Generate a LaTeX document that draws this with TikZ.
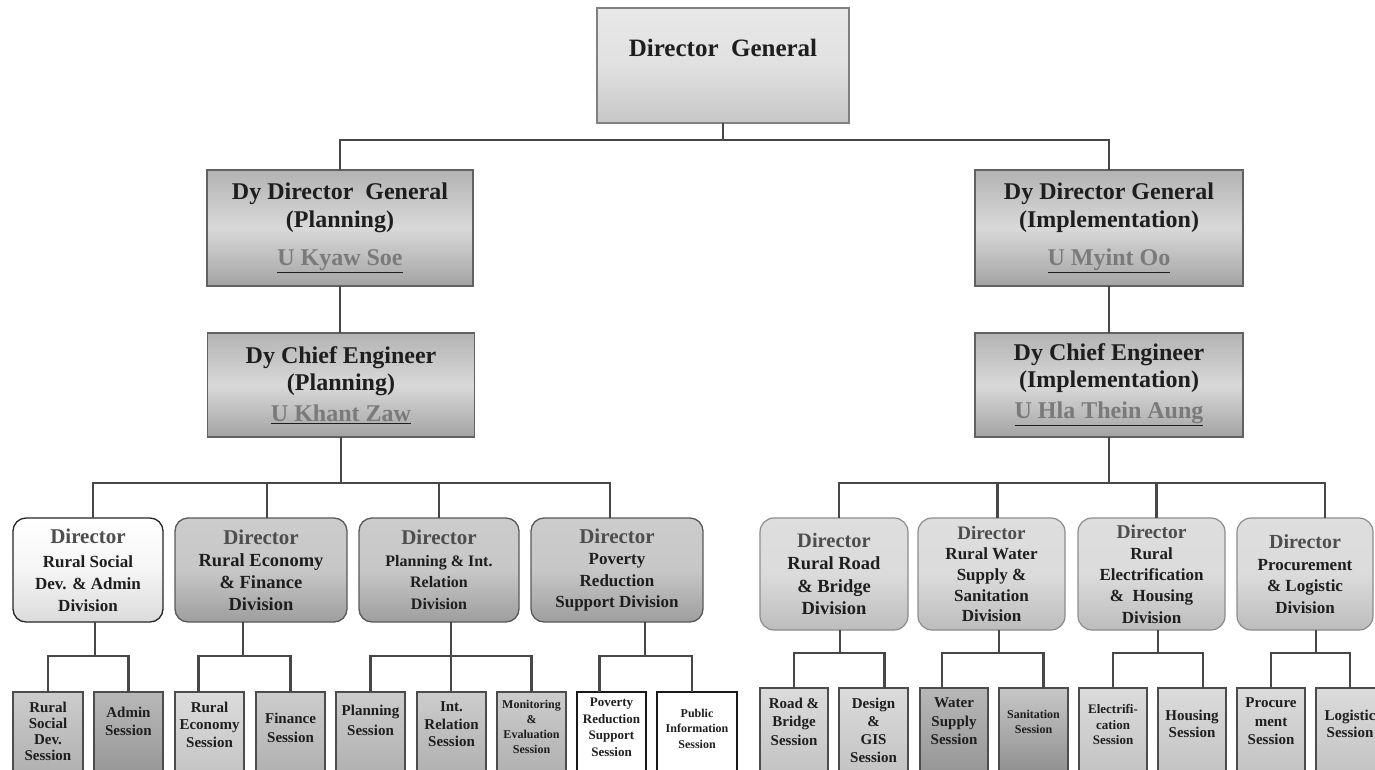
\documentclass[tikz,border=0pt]{standalone}
\usepackage{fontspec}
\setmainfont{Liberation Serif}
\definecolor{ink}{HTML}{1E1E1E}
\definecolor{lineC}{HTML}{474747}
\definecolor{nameC}{HTML}{7A7A7A}
\definecolor{dirC}{HTML}{4E4E4E}
\newcommand\fsz[2]{\fontsize{#1}{#2}\selectfont\bfseries}
\newcommand\nm[1]{\underline{\textcolor{nameC}{#1}}}
\newcommand\dirw[1]{{\fontsize{#1}{22}\selectfont\bfseries\textcolor{dirC}{Director}}}
\begin{document}
\begin{tikzpicture}[x=1pt,y=-1pt,
  conn/.style={draw=lineC, line width=2.6pt},
  tconn/.style={draw=lineC, line width=1.8pt},
  basebox/.style={rectangle, inner sep=0pt, outer sep=0pt, align=center, text=ink},
  dgbox/.style={basebox, draw=black!50, line width=1.3pt, top color=black!9, bottom color=black!22, middle color=black!12},
  dybox/.style={basebox, draw=black!62, line width=1.5pt, top color=black!30, bottom color=black!36, middle color=black!15},
  dirbox/.style={basebox, rounded corners=13pt, draw=black!65, line width=1.3pt, top color=black!20, bottom color=black!38, middle color=black!22},
  dirwhite/.style={basebox, rounded corners=13pt, draw=black!85, line width=1.3pt, top color=white, bottom color=black!14, middle color=black!4},
  rdirbox/.style={basebox, rounded corners=14pt, draw=black!45, line width=1.2pt, top color=black!13, bottom color=black!26, middle color=black!14},
  sessbox/.style={basebox, anchor=north west, draw=black!70, line width=1.3pt, minimum height=90},
  sgray/.style={sessbox, top color=black!20, bottom color=black!32},
  sdark/.style={sessbox, top color=black!28, bottom color=black!42},
  slight/.style={sessbox, top color=black!14, bottom color=black!24},
  swhite/.style={sessbox, draw=black!90, fill=white},
  stext/.style={basebox, text=ink}
]
\path[use as bounding box] (0,0) rectangle (1375,770);
\fill[white] (0,0) rectangle (1375,770);
\clip (0,0) rectangle (1375,770);

% top level
\node[dgbox, minimum width=252, minimum height=115] (dg) at (723,65.5) {};
\node[stext, font=\fsz{25}{28}] (dgt) at (723,48) {Director\ \ General};

\node[dybox, minimum width=266, minimum height=116, font=\fsz{24}{28}] (dyp) at (340,228)
  {Dy Director\ \ General\\(Planning)\\[10pt]\nm{U Kyaw Soe}};
\node[dybox, minimum width=268, minimum height=116, font=\fsz{24}{28}] (dyi) at (1109,228)
  {Dy Director General\\(Implementation)\\[10pt]\nm{U Myint Oo}};
\node[dybox, minimum width=267, minimum height=104, font=\fsz{24}{27}] (cep) at (341,385)
  {Dy Chief Engineer\\(Planning)\\[4pt]\nm{U Khant Zaw}};
\node[dybox, minimum width=268, minimum height=104, font=\fsz{24}{27}] (cei) at (1109,385)
  {Dy Chief Engineer\\(Implementation)\\[4pt]\nm{U Hla Thein Aung}};

\draw[tconn] (dg.south) -- ++(0,17) coordinate (jt);
\draw[tconn] (dyp.north) |- (jt) -| (dyi.north);
\draw[conn] (dyp.south) -- (dyp.south |- cep.north);
\draw[conn] (dyi.south) -- (cei.north);

% directors, planning side
\node[dirwhite, minimum width=150, minimum height=104, font=\fsz{17}{22}] (d1) at (88,570)
  {\dirw{21}\\[2pt]Rural Social\\Dev. \& Admin\\Division};
\node[dirbox, minimum width=172, minimum height=104, font=\fsz{18.5}{22}] (d2) at (261,570)
  {\dirw{21}\\Rural Economy\\\& Finance\\Division};
\node[dirbox, minimum width=160, minimum height=104, font=\fsz{16}{21.5}] (d3) at (439,570)
  {\dirw{21}\\Planning \& Int.\\Relation\\Division};
\node[dirbox, minimum width=172, minimum height=104, font=\fsz{17}{21.5}] (d4) at (617,570)
  {\dirw{21}\\Poverty\\Reduction\\Support Division};

% directors, implementation side
\node[rdirbox, minimum width=148, minimum height=112, font=\fsz{18.5}{22.5}] (d5) at (834,574)
  {\dirw{20.5}\\Rural Road\\\& Bridge\\Division};
\node[rdirbox, minimum width=147, minimum height=112, font=\fsz{17}{20.7}] (d6) at (991.5,574)
  {\dirw{19}\\Rural Water\\Supply \&\\Sanitation\\Division};
\node[rdirbox, minimum width=147, minimum height=112, font=\fsz{17}{21.3}] (d7) at (1151.5,574)
  {\dirw{19.5}\\Rural\\Electrification\\\&\ \ Housing\\Division};
\node[rdirbox, minimum width=136, minimum height=112, font=\fsz{17}{21.5}] (d8) at (1305,574)
  {\dirw{20}\\Procurement\\\& Logistic\\Division};

\draw[conn] (cep.south) -- ++(0,46) coordinate (jl);
\draw[conn] ([xshift=5pt]d1.north) |- (jl);
\draw[conn] ([xshift=6pt]d2.north) |- (jl);
\draw[conn] (d3.north) |- (jl);
\draw[conn] ([xshift=-7pt]d4.north) |- (jl);

\draw[conn] (cei.south) -- ++(0,46) coordinate (jr);
\draw[conn] ([xshift=5pt]d5.north) |- (jr);
\draw[conn] ([xshift=6pt]d6.north) |- (jr);
\draw[conn] ([xshift=5pt]d7.north) |- (jr);
\draw[conn] ([xshift=20pt]d8.north) |- (jr);

% sessions, planning side
\node[sgray,  minimum width=70] (sa) at (13,692) {};
\node[sdark,  minimum width=69] (sb) at (94,692) {};
\node[slight, minimum width=69] (sc) at (175,692) {};
\node[sgray,  minimum width=69] (sd) at (256,692) {};
\node[sgray,  minimum width=69] (se) at (336,692) {};
\node[sgray,  minimum width=69] (sf) at (417,692) {};
\node[sgray,  minimum width=69] (sg) at (497,692) {};
\node[swhite, minimum width=69] (sh) at (577,692) {};
\node[swhite, minimum width=80] (si) at (657,692) {};

\node[stext, font=\fsz{15}{16}]   (ta) at (48,731)    {Rural\\Social\\Dev.\\Session};
\node[stext, font=\fsz{15}{18}]   (tb) at (128.5,721) {Admin\\Session};
\node[stext, font=\fsz{15}{17.5}] (tc) at (209.5,724.5) {Rural\\Economy\\Session};
\node[stext, font=\fsz{15}{19}]   (td) at (290.5,727.5) {Finance\\Session};
\node[stext, font=\fsz{15}{20}]   (te) at (370.5,720) {Planning\\Session};
\node[stext, font=\fsz{15}{17.5}] (tf) at (451.5,724.5) {Int.\\Relation\\Session};
\node[stext, font=\fsz{12}{15}]   (tg) at (531.5,726.5) {Monitoring\\\&\\Evaluation\\Session};
\node[stext, font=\fsz{13}{16.5}] (th) at (611.5,727.5) {Poverty\\Reduction\\Support\\Session};
\node[stext, font=\fsz{12}{15.5}] (ti) at (697,728.5) {Public\\Information\\Session};

% sessions, implementation side
\node[slight, minimum width=68] (sj) at (760,688) {};
\node[slight, minimum width=69] (sk) at (839,688) {};
\node[sdark,  minimum width=68] (sl) at (920,688) {};
\node[sessbox, minimum width=69, top color=black!22, bottom color=black!45] (sm) at (999,688) {};
\node[slight, minimum width=68] (sn) at (1079,688) {};
\node[slight, minimum width=68] (so) at (1158,688) {};
\node[slight, minimum width=68] (sp) at (1237,688) {};
\node[slight, minimum width=68] (sq) at (1316,688) {};

\node[stext, font=\fsz{15}{18.5}] (tj) at (794,721.5) {Road \&\\Bridge\\Session};
\node[stext, font=\fsz{15}{18}]   (tk) at (873.5,730) {Design\\\&\\GIS\\Session};
\node[stext, font=\fsz{15}{18.5}] (tl) at (954,721.5) {Water\\Supply\\Session};
\node[stext, font=\fsz{12}{15}]   (tm) at (1033.5,721.5) {Sanitation\\Session};
\node[stext, font=\fsz{13}{15.5}] (tn) at (1113,724.5) {Electrifi-\\cation\\Session};
\node[stext, font=\fsz{15}{17}]   (to) at (1192,723.5) {Housing\\Session};
\node[stext, font=\fsz{15}{18.5}] (tp) at (1271,721.5) {Procure\\ment\\Session};
\node[stext, font=\fsz{15}{17}]   (tq) at (1350,723.5) {Logistic\\Session};

% director -> session connectors
\coordinate (j1) at (95,656);
\coordinate (j2) at (243,656);
\coordinate (j3) at (451,656);
\coordinate (j4) at (645,656);
\coordinate (j5) at (840,653);
\coordinate (j6) at (999,653);
\coordinate (j7) at (1158,653);
\coordinate (j8) at (1316,653);

\draw[conn] (d1.south -| j1) -- (j1);
\draw[conn] (sa.north) |- (j1) -| (sb.north);
\draw[conn] (d2.south -| j2) -- (j2);
\draw[conn] ([xshift=-11pt]sc.north) |- (j2) -| (sd.north);
\draw[conn] (d3.south -| j3) -- (j3);
\draw[conn] (se.north) |- (j3) -| (sg.north);
\draw[conn] (sf.north -| j3) -- (j3);
\draw[conn] (d4.south -| j4) -- (j4);
\draw[conn] ([xshift=-12pt]sh.north) |- (j4) -| ([xshift=-5pt]si.north);

\draw[conn] (d5.south -| j5) -- (j5);
\draw[conn] (sj.north) |- (j5) -| ([xshift=11pt]sk.north);
\draw[conn] (d6.south -| j6) -- (j6);
\draw[conn] ([xshift=-12pt]sl.north) |- (j6) -| ([xshift=10pt]sm.north);
\draw[conn] (d7.south -| j7) -- (j7);
\draw[conn] (sn.north) |- (j7) -| ([xshift=11pt]so.north);
\draw[conn] (d8.south -| j8) -- (j8);
\draw[conn] (sp.north) |- (j8) -| (sq.north);
\end{tikzpicture}
\end{document}
